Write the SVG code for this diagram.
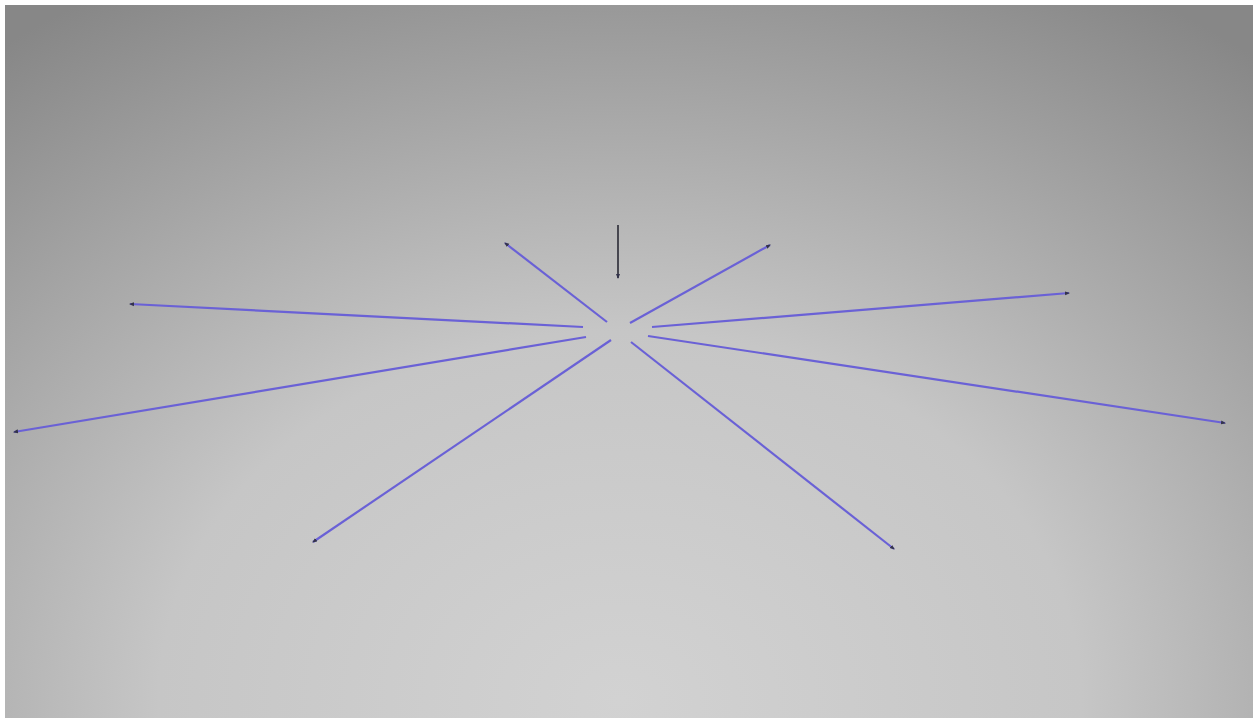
<svg xmlns="http://www.w3.org/2000/svg" width="1259" height="720" viewBox="0 0 1259 720">
<defs>
<radialGradient id="bg" cx="620" cy="700" r="820" gradientUnits="userSpaceOnUse" gradientTransform="translate(620 700) scale(1.25 1) translate(-620 -700)">
<stop offset="0" stop-color="#d2d2d2"/>
<stop offset="0.45" stop-color="#c6c6c6"/>
<stop offset="1" stop-color="#878787"/>
</radialGradient>
<marker id="tip" viewBox="0 0 10 10" refX="8" refY="5" markerWidth="5" markerHeight="5" orient="auto" markerUnits="userSpaceOnUse">
<path d="M0,1 L10,5 L0,9 z" fill="#33334a"/>
</marker>
<style>
.ray{stroke:#6a61d6;stroke-width:2.2;fill:none;marker-end:url(#tip)}
.stem{stroke:#3a3a44;stroke-width:1.8;fill:none;marker-end:url(#tip)}
</style>
</defs>
<rect x="0" y="0" width="1259" height="720" fill="#ffffff"/>
<rect x="5" y="5" width="1248" height="713" fill="url(#bg)"/>
<g id="connectors">
<line class="stem" x1="618" y1="225" x2="618" y2="278"/>
<line class="ray" x1="607" y1="322" x2="505" y2="243"/>
<line class="ray" x1="630" y1="323" x2="770" y2="245"/>
<line class="ray" x1="583" y1="327" x2="130" y2="304"/>
<line class="ray" x1="652" y1="327" x2="1069" y2="293"/>
<line class="ray" x1="586" y1="337" x2="14" y2="432"/>
<line class="ray" x1="648" y1="336" x2="1225" y2="423"/>
<line class="ray" x1="611" y1="340" x2="313" y2="542"/>
<line class="ray" x1="631" y1="342" x2="894" y2="549"/>
</g>
</svg>
